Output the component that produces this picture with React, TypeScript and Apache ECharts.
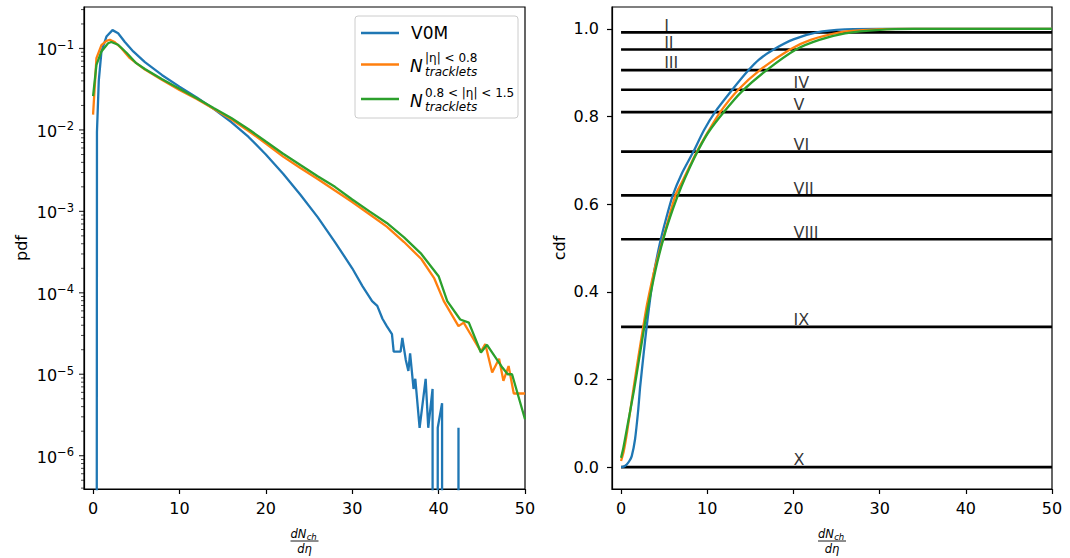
import React, { useEffect, useRef } from "react";
import * as echarts from "echarts";

// zero-count bins: matplotlib clips them far below the log axis
const Z = 1e-100;

const xTicks = [0, 10, 20, 30, 40, 50];
const pdfMajorTicks = [1e-6, 1e-5, 1e-4, 1e-3, 1e-2, 1e-1];
const cdfTicks = [0, 0.2, 0.4, 0.6, 0.8, 1.0];

const pdfV0M: [number, number][] = [
  [0, Z], [0.45, 0.0095], [0.66, 0.04], [0.97, 0.092], [1.55, 0.14], [2.25, 0.168], [2.9, 0.154],
  [3.68, 0.12], [4.65, 0.092], [6, 0.068], [8, 0.047], [10, 0.034], [12, 0.025], [14, 0.018],
  [16, 0.0125], [18, 0.0082], [20, 0.005], [22, 0.0029], [24, 0.0016], [26, 8.5e-4], [28, 4.2e-4],
  [30, 2e-4], [31.2, 1.2e-4], [32.3, 7.9e-5], [32.9, 6.9e-5], [33.5, 4.8e-5], [34.0, 3.9e-5],
  [34.6, 3.1e-5], [34.8, 1.9e-5], [35.6, 1.9e-5], [35.8, 2.8e-5], [36.2, 1.5e-5], [36.5, 1.1e-5],
  [36.7, 1.8e-5], [37.1, 6.6e-6], [37.3, 8.8e-6], [37.8, 2.2e-6], [38.5, 8.8e-6], [38.8, 2.2e-6],
  [39.3, 6.6e-6], [39.6, Z], [39.9, 2.2e-6], [40.4, 4.4e-6], [40.7, Z], [42.0, Z], [42.3, 2.2e-6],
  [42.6, Z], [50, Z],
];

const pdfTrk08: [number, number][] = [
  [0, 0.0154], [0.39, 0.076], [0.97, 0.11], [1.55, 0.124], [1.94, 0.128], [2.5, 0.12], [3.3, 0.1],
  [4.26, 0.076], [5, 0.066], [6, 0.055], [8, 0.041], [10, 0.031], [12, 0.024], [14, 0.018],
  [16, 0.0135], [18, 0.0097], [20, 0.0068], [22, 0.0047], [24, 0.0034], [26, 0.0025], [28, 0.0018],
  [30, 0.0013], [32, 9.2e-4], [34, 6.5e-4], [36, 4.2e-4], [38, 2.6e-4], [39.5, 1.5e-4], [40.6, 7.9e-5],
  [42.3, 3.9e-5], [42.9, 4.3e-5], [43.7, 3.1e-5], [44.9, 1.9e-5], [45.4, 2.35e-5], [46.2, 1.05e-5],
  [47.0, 1.55e-5], [47.5, 8.3e-6], [48.1, 1.26e-5], [48.7, 5.8e-6], [50, 5.8e-6],
];

const pdfTrk0815: [number, number][] = [
  [0, 0.026], [0.39, 0.063], [0.97, 0.092], [1.74, 0.116], [2.1, 0.12], [2.9, 0.111], [3.9, 0.088],
  [5, 0.066], [6, 0.056], [8, 0.042], [10, 0.032], [12, 0.0245], [14, 0.0185], [16, 0.014],
  [18, 0.0102], [20, 0.0072], [22, 0.0051], [24, 0.0037], [26, 0.0027], [28, 0.002], [30, 0.0014],
  [32, 0.001], [34, 7.2e-4], [36, 4.8e-4], [38, 3e-4], [40, 1.6e-4], [41.0, 7.9e-5], [42.5, 4.7e-5],
  [43.5, 4.3e-5], [44.9, 1.85e-5], [45.6, 2.3e-5], [47.4, 1.2e-5], [48.0, 1.0e-5], [48.5, 1.0e-5],
  [50, 2.8e-6],
];

const cdfV0M: [number, number][] = [
  [0, 0], [0.3, 0.001], [0.66, 0.006], [1.0, 0.015], [1.24, 0.025], [1.62, 0.063], [2.0, 0.132],
  [2.2, 0.18], [2.6, 0.255], [2.98, 0.322], [3.7, 0.43], [4.5, 0.51], [5.2, 0.565], [6, 0.62],
  [7, 0.668], [8.4, 0.72], [9.6, 0.768], [10.9, 0.81], [12.9, 0.861], [14.8, 0.906], [16, 0.93],
  [17.7, 0.953], [20, 0.976], [22.7, 0.992], [26, 0.999], [30, 1.0], [50, 1.0],
];

const cdfTrk08: [number, number][] = [
  [0, 0.014], [0.3, 0.035], [0.7, 0.08], [1.43, 0.177], [2.0, 0.25], [2.59, 0.322], [3, 0.37],
  [4, 0.46], [5, 0.53], [6.3, 0.62], [7, 0.648], [8, 0.688], [8.8, 0.72], [10, 0.762], [11.5, 0.81],
  [13.6, 0.861], [16.1, 0.906], [19.6, 0.953], [22, 0.975], [25.4, 0.992], [28, 0.997], [32, 1.0],
  [50, 1.0],
];

const cdfTrk0815: [number, number][] = [
  [0, 0.021], [0.27, 0.044], [0.7, 0.09], [1.5, 0.175], [2.0, 0.235], [2.7, 0.32], [3, 0.353],
  [4, 0.45], [5, 0.527], [6, 0.588], [7, 0.64], [8, 0.685], [9, 0.725], [10.1, 0.763], [12, 0.812],
  [14, 0.857], [16.9, 0.906], [20.3, 0.953], [23, 0.975], [26, 0.99], [30, 0.998], [34, 1.0], [50, 1.0],
];

const classLevels = [0.992, 0.953, 0.906, 0.861, 0.81, 0.72, 0.62, 0.52, 0.32, 0.0];
const classNames = ["I", "II", "III", "IV", "V", "VI", "VII", "VIII", "IX", "X"];
const classLabelX = [5, 5, 5, 20, 20, 20, 20, 20, 20, 20];

const seriesNames = ["V0M", "N08", "N0815"];
const seriesColors = ["#1f77b4", "#ff7f0e", "#2ca02c"];

const FONT = "DejaVu Sans";
const X_MIN = -1.05;
const X_MAX = 50;
const PDF_MIN = 3.9e-7;
const PDF_MAX = 0.323;

export default function App() {
  const ref = useRef<HTMLDivElement>(null);

  useEffect(() => {
    const chart = echarts.init(ref.current!, null, { renderer: "svg" });

    const logLabel = (v: number) => {
      const l = Math.log10(v);
      const r = Math.round(l);
      if (Math.abs(l - r) > 0.01) return "";
      return "{b|10}{e|" + String(r).replace("-", "\u2212") + "}";
    };

    const minorTicks: number[] = [];
    for (let e = -7; e <= -1; e++) {
      for (let m = 2; m <= 9; m++) {
        const v = m * Math.pow(10, e);
        if (v >= PDF_MIN && v <= PDF_MAX) minorTicks.push(v);
      }
    }

    const axisLineStyle = { color: "#000", width: 1.2 };
    const labelStyle = { color: "#000", fontSize: 16, fontFamily: FONT };

    const xAxisFor = (gi: number) => ({
      type: "value",
      gridIndex: gi,
      min: X_MIN,
      max: X_MAX,
      axisLine: { show: true, onZero: false, lineStyle: axisLineStyle },
      axisTick: { show: true, customValues: xTicks, length: 5, lineStyle: axisLineStyle },
      axisLabel: { ...labelStyle, customValues: xTicks, margin: 11 },
      splitLine: { show: false },
    });

    const fracGraphic = (cx: number) => ({
      type: "group",
      children: [
        { type: "text", x: cx - 14, y: 534, style: { text: "dN", font: `italic 11.5px '${FONT}'`, fill: "#000", verticalAlign: "middle", align: "left" } },
        { type: "text", x: cx + 2.2, y: 537, style: { text: "ch", font: `italic 8.5px '${FONT}'`, fill: "#000", verticalAlign: "middle", align: "left" } },
        { type: "line", shape: { x1: cx - 14, y1: 541, x2: cx + 14, y2: 541 }, style: { stroke: "#000", lineWidth: 0.9 } },
        { type: "text", x: cx, y: 549, style: { text: "d\u03B7", font: `italic 11.5px '${FONT}'`, fill: "#000", verticalAlign: "middle", align: "center" } },
      ],
    });

    const legendRows = [
      { y: 33, color: seriesColors[0], main: "V0M", sup: "", sub: "" },
      { y: 64.5, color: seriesColors[1], main: "N", sup: "|\u03B7| < 0.8", sub: "tracklets" },
      { y: 99, color: seriesColors[2], main: "N", sup: "0.8 < |\u03B7| < 1.5", sub: "tracklets" },
    ];
    const legendChildren: any[] = [
      { type: "rect", shape: { x: 355, y: 16, width: 163, height: 102, r: 3 }, style: { fill: "rgba(255,255,255,0.8)", stroke: "#cccccc", lineWidth: 1 } },
    ];
    legendRows.forEach((r) => {
      legendChildren.push({ type: "line", shape: { x1: 361, y1: r.y, x2: 399, y2: r.y }, style: { stroke: r.color, lineWidth: 2.3 } });
      if (!r.sup) {
        legendChildren.push({ type: "text", x: 411, y: r.y, style: { text: r.main, font: `17px '${FONT}'`, fill: "#000", verticalAlign: "middle" } });
      } else {
        legendChildren.push({ type: "text", x: 410, y: r.y + 1.5, style: { text: r.main, font: `italic 17px '${FONT}'`, fill: "#000", verticalAlign: "middle" } });
        legendChildren.push({ type: "text", x: 425, y: r.y - 6.5, style: { text: r.sup, font: `12px '${FONT}'`, fill: "#000", verticalAlign: "middle" } });
        legendChildren.push({ type: "text", x: 425, y: r.y + 7.5, style: { text: r.sub, font: `italic 12px '${FONT}'`, fill: "#000", verticalAlign: "middle" } });
      }
    });

    const pdfData = [pdfV0M, pdfTrk08, pdfTrk0815];
    const cdfData = [cdfV0M, cdfTrk08, cdfTrk0815];

    const series: any[] = [];
    pdfData.forEach((d, i) => {
      series.push({
        name: seriesNames[i], type: "line", xAxisIndex: 0, yAxisIndex: 0, data: d,
        showSymbol: false, symbol: "none", clip: true,
        lineStyle: { color: seriesColors[i], width: 2.3 }, z: 3 + i,
      });
    });
    classLevels.forEach((lv, i) => {
      series.push({
        name: "class " + classNames[i], type: "line", xAxisIndex: 1, yAxisIndex: 1,
        data: [[0, lv], [50, lv]], symbol: "none", lineStyle: { color: "#000", width: 2.6 }, z: 2,
      });
    });
    cdfData.forEach((d, i) => {
      series.push({
        name: seriesNames[i] + " cdf", type: "line", xAxisIndex: 1, yAxisIndex: 1, data: d,
        showSymbol: false, symbol: "none", smooth: 0.2,
        lineStyle: { color: seriesColors[i], width: 2.3 }, z: 3 + i,
      });
    });
    series.push({
      name: "class labels", type: "scatter", xAxisIndex: 1, yAxisIndex: 1,
      data: classLevels.map((lv, i) => [classLabelX[i], lv, classNames[i]]),
      symbolSize: 0, silent: true, z: 6,
      label: {
        show: true, position: [0, 0], align: "left", verticalAlign: "bottom", lineHeight: 12, offset: [0, -1.2],
        formatter: (p: any) => p.data[2], color: "#000", fontSize: 16, fontFamily: FONT,
      },
    });
    // log-axis ticks (major & minor), placed on the left spine through the axis scale
    series.push({
      name: "major ticks", type: "scatter", xAxisIndex: 0, yAxisIndex: 0, silent: true, clip: false,
      data: pdfMajorTicks.map((v) => [X_MIN, v]), symbol: "rect", symbolSize: [5, 1.2], symbolOffset: [-2.5, 0],
      itemStyle: { color: "#000" }, z: 1,
    });
    series.push({
      name: "minor ticks", type: "scatter", xAxisIndex: 0, yAxisIndex: 0, silent: true, clip: false,
      data: minorTicks.map((v) => [X_MIN, v]), symbol: "rect", symbolSize: [3, 0.9], symbolOffset: [-1.5, 0],
      itemStyle: { color: "#000" }, z: 1,
    });

    const option: any = {
      animation: false,
      backgroundColor: "#fff",
      textStyle: { fontFamily: FONT },
      grid: [
        { left: 84, top: 7, width: 441, height: 482, show: true, borderColor: "#000", borderWidth: 1.2, backgroundColor: "transparent" },
        { left: 612, top: 7, width: 440, height: 482, show: true, borderColor: "#000", borderWidth: 1.2, backgroundColor: "transparent" },
      ],
      xAxis: [xAxisFor(0), xAxisFor(1)],
      yAxis: [
        {
          type: "log", gridIndex: 0, logBase: 10, min: PDF_MIN, max: PDF_MAX,
          axisLine: { show: true, onZero: false, lineStyle: axisLineStyle },
          axisTick: { show: false },
          axisLabel: {
            ...labelStyle, showMinLabel: false, showMaxLabel: false, margin: 10, formatter: logLabel,
            rich: {
              b: { fontSize: 16, fontFamily: FONT, color: "#000", verticalAlign: "bottom", lineHeight: 18 },
              e: { fontSize: 11.5, fontFamily: FONT, color: "#000", verticalAlign: "bottom", padding: [0, 0, 7, 0] },
            },
          },
          splitLine: { show: false },
        },
        {
          type: "value", gridIndex: 1, min: -0.05, max: 1.05,
          axisLine: { show: true, onZero: false, lineStyle: axisLineStyle },
          axisTick: { show: true, customValues: cdfTicks, length: 5, lineStyle: axisLineStyle },
          axisLabel: { ...labelStyle, customValues: cdfTicks, margin: 13, formatter: (v: number) => v.toFixed(1) },
          splitLine: { show: false },
        },
      ],
      graphic: [
        { type: "text", x: 21, y: 248, rotation: Math.PI / 2, style: { text: "pdf", font: `16px '${FONT}'`, fill: "#000", align: "center", verticalAlign: "middle" } },
        { type: "text", x: 559, y: 248, rotation: Math.PI / 2, style: { text: "cdf", font: `16px '${FONT}'`, fill: "#000", align: "center", verticalAlign: "middle" } },
        fracGraphic(304.5),
        fracGraphic(832),
        { type: "group", z: 100, children: legendChildren },
      ],
      series,
    };

    chart.setOption(option);
    return () => chart.dispose();
  }, []);

  return (
    <div
      ref={ref}
      style={{ position: "fixed", left: 0, top: 0, width: 1070, height: 558, background: "#fff" }}
    />
  );
}
